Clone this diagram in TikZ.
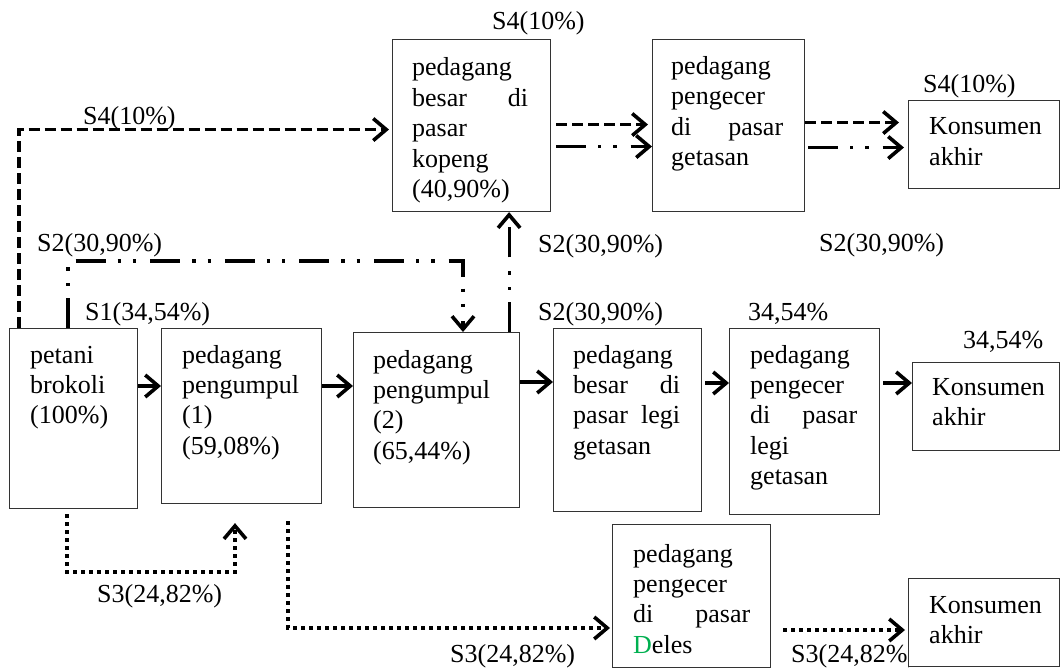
\documentclass[tikz,border=0pt]{standalone}
\usepackage{fontspec}
\setmainfont{Liberation Serif}
\usetikzlibrary{arrows.meta,calc}
\definecolor{dgreen}{RGB}{0,176,80}
\tikzset{
  bx/.style={draw=black!80, line width=1.1pt, fill=white, inner sep=0pt, anchor=north west},
  tx/.style={font=\fontsize{26}{30.4}\selectfont, inner sep=0pt, anchor=base west, align=left},
  lb/.style={font=\fontsize{26}{30.4}\selectfont, inner sep=0pt, anchor=base west},
  arr/.style={line width=3.2pt, -{Straight Barb[length=13pt,width=22pt,line width=3.6pt]}},
  dsh/.style={arr, dash pattern=on 11pt off 5pt},
  ddot/.style={arr, dash pattern=on 30pt off 12pt on 3.3pt off 12pt on 3.3pt off 14pt},
  dts/.style={arr, dash pattern=on 3.5pt off 4.5pt},
}
\begin{document}
\begin{tikzpicture}[x=1pt,y=-1pt]
\useasboundingbox (0,0) rectangle (1060,668);
% labels
\node[lb] (l1) at (83,125) {S4(10\%)};
\node[lb] (l2) at (492,30) {S4(10\%)};
\node[lb] (l3) at (923,93) {S4(10\%)};
\node[lb] (l4) at (37,252) {S2(30,90\%)};
\node[lb] (l5) at (538,253) {S2(30,90\%)};
\node[lb] (l6) at (819,252) {S2(30,90\%)};
\node[lb] (l7) at (538,320) {S2(30,90\%)};
\node[lb] (l8) at (85,320) {S1(34,54\%)};
\node[lb] (l9) at (748,320) {34,54\%};
\node[lb] (l10) at (963,348) {34,54\%};
\node[lb] (l11) at (97,602) {S3(24,82\%)};
\node[lb] (l12) at (450,662) {S3(24,82\%)};
\node[lb] (l13) at (791,662) {S3(24,82\%)};
% boxes
\node[bx, minimum width=158pt, minimum height=172pt] (kopeng) at (392,39) {};
\node[tx, text width=116pt] (kopengT) at ($(kopeng.north west)+(20,37)$) {pedagang\\besar\hfill di\\pasar\\kopeng\\(40,90\%)};
\node[bx, minimum width=152pt, minimum height=172pt] (getasan) at (652,39) {};
\node[tx, text width=112pt] (getasanT) at ($(getasan.north west)+(19,35.5)$) {pedagang\\pengecer\\di\hfill pasar\\getasan};
\node[bx, minimum width=151pt, minimum height=88pt] (konT) at (908,100) {};
\node[tx, text width=125pt] (konTT) at ($(konT.north west)+(21,35)$) {Konsumen\\akhir};
\node[bx, minimum width=128pt, minimum height=180pt] (petani) at (9,328) {};
\node[tx, text width=105pt] (petaniT) at ($(petani.north west)+(21,35)$) {petani\\brokoli\\(100\%)};
\node[bx, minimum width=160pt, minimum height=175pt] (peng1) at (161,328) {};
\node[tx, text width=135pt] (peng1T) at ($(peng1.north west)+(21,35)$) {pedagang\\pengumpul\\(1)\\(59,08\%)};
\node[bx, minimum width=166pt, minimum height=175pt] (peng2) at (353,332) {};
\node[tx, text width=140pt] (peng2T) at ($(peng2.north west)+(20,36)$) {pedagang\\pengumpul\\(2)\\(65,44\%)};
\node[bx, minimum width=148pt, minimum height=183pt] (besar) at (553,328) {};
\node[tx, text width=107pt] (besarT) at ($(besar.north west)+(20,35)$) {pedagang\\besar\hfill di\\pasar\hfill legi\\getasan};
\node[bx, minimum width=150pt, minimum height=186pt] (pengL) at (729,328) {};
\node[tx, text width=107pt] (pengLT) at ($(pengL.north west)+(21,35)$) {pedagang\\pengecer\\di\hfill pasar\\legi\\getasan};
\node[bx, minimum width=147pt, minimum height=88pt] (konM) at (912,362) {};
\node[tx, text width=120pt] (konMT) at ($(konM.north west)+(20,33)$) {Konsumen\\akhir};
\node[bx, minimum width=158pt, minimum height=143pt] (deles) at (612,524) {};
\node[tx, text width=117pt] (delesT) at ($(deles.north west)+(21,38)$) {pedagang\\pengecer\\di\hfill pasar\\{\color{dgreen}D}eles};
\node[bx, minimum width=151pt, minimum height=88pt] (konB) at (908,578) {};
\node[tx, text width=125pt] (konBT) at ($(konB.north west)+(21,35)$) {Konsumen\\akhir};
% S4 connectors
\draw[dsh] ($(petani.north west)+(10,0)$) |- ($(kopeng.west)+(-3,4)$);
\draw[dsh] ($(kopeng.east)+(5,-1)$) coordinate (k1) -- ($(k1 -| getasan.west)+(-4,0)$);
\draw[dsh] ($(getasan.east)+(0,-3)$) coordinate (g1) -- ($(g1 -| konT.west)+(-9,0)$);
% S2 connectors
\coordinate (s2c) at (463,261);
\draw[ddot] ($(petani.north west)+(59,0)$) |- (s2c) -- (s2c |- peng2.north);
\draw[ddot] ($(peng2.north east)+(-11,0)$) coordinate (s2u) -- (s2u |- kopeng.south);
\draw[ddot] ($(kopeng.east)+(5,21)$) coordinate (k2) -- (k2 -| getasan.west);
\draw[ddot] ($(getasan.east)+(3,22)$) coordinate (g2) -- ($(g2 -| konT.west)+(-4,0)$);
% S1 connectors
\draw[arr] ($(petani.north east)+(0,58)$) coordinate (m1) -- (m1 -| peng1.west);
\draw[arr] ($(peng1.north east)+(0,58)$) coordinate (m2) -- (m2 -| peng2.west);
\draw[arr] ($(peng2.north east)+(0,50)$) coordinate (m3) -- (m3 -| besar.west);
\draw[arr] ($(besar.north east)+(3,55)$) coordinate (m4) -- (m4 -| pengL.west);
\draw[arr] ($(pengL.north east)+(3,55)$) coordinate (m5) -- (m5 -| konM.west);
% S3 connectors
\coordinate (s3c) at (235,572);
\draw[dts] ($(petani.south west)+(58,5)$) |- (s3c) -- ($(s3c |- peng1.south)+(0,19)$);
\draw[dts] ($(peng1.south west)+(127,17)$) |- ($(deles.north west)+(-2,104)$);
\draw[dts] ($(deles.north east)+(12,106)$) coordinate (d1) -- ($(d1 -| konB.west)+(-3,0)$);
\end{tikzpicture}
\end{document}
